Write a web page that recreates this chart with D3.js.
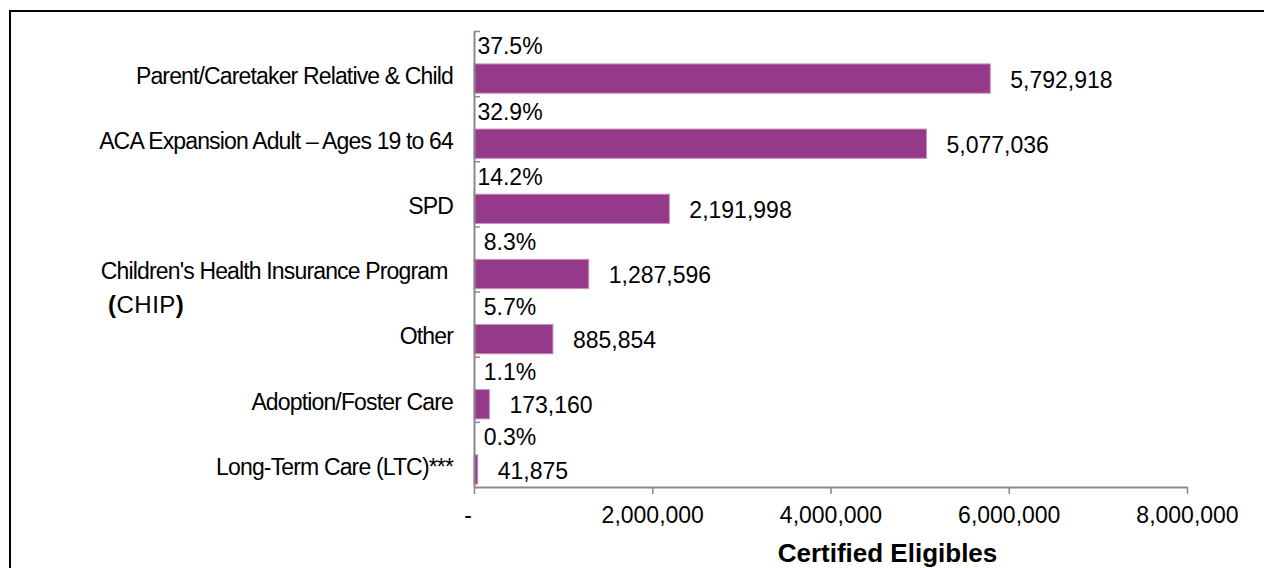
<!DOCTYPE html>
<html>
<head>
<meta charset="utf-8">
<script src="https://cdn.jsdelivr.net/npm/d3@7"></script>
<style>
body{margin:0;background:#fff;}
svg{font-family:"Liberation Sans",Arial,sans-serif;}
</style>
</head>
<body>
<svg id="chart" width="1264" height="568"></svg>
<script>
//--------------------- chart data
let categories=["Parent/Caretaker Relative & Child","ACA Expansion Adult \u2013 Ages 19 to 64","SPD","Children's Health Insurance Program \n(CHIP)","Other","Adoption/Foster Care","Long-Term Care (LTC)***"];
let eligibles=[5792918,5077036,2191998,1287596,885854,173160,41875];
let shares=["37.5%","32.9%","14.2%","8.3%","5.7%","1.1%","0.3%"];
let x_ticks=[0,2000000,4000000,6000000,8000000];
let x_title="Certified Eligibles";

let bar_color="#953a8b";
let axis_color="#8a8a8a";

//--------------------- layout
let svg=d3.select("#chart");
let margin={top:31,right:77,bottom:81,left:474};
let width=1264-margin.left-margin.right;
let height=568-margin.top-margin.bottom;

// frame round the chart (runs off the right and bottom edges)
svg.append("rect")
    .attr("x",10).attr("y",11)
    .attr("width",1300).attr("height",600)
    .attr("fill","none").attr("stroke","#000").attr("stroke-width",2);

let g=svg.append("g").attr("transform","translate("+margin.left+","+margin.top+")");

let x=d3.scaleLinear().domain([0,8000000]).range([0,width]);
let y=d3.scaleBand().domain(categories).range([0,height]).padding(0);
let bw=y.bandwidth();

// bars
g.selectAll(".bar")
    .data(eligibles)
    .enter().append("rect")
    .attr("class","bar")
    .attr("x",x(0))
    .attr("y",(d,i)=>y(categories[i])+bw*0.505)
    .attr("width",d=>x(d)-x(0))
    .attr("height",bw*0.45)
    .attr("fill",bar_color)
    .attr("stroke","#c893c1")
    .attr("stroke-width",1);

// value labels
g.selectAll(".value")
    .data(eligibles)
    .enter().append("text")
    .attr("class","value")
    .attr("x",d=>x(d)+20)
    .attr("y",(d,i)=>y(categories[i])+bw*0.73)
    .attr("dy","0.4em")
    .attr("font-size","23px")
    .attr("fill","#000")
    .text(d=>d3.format(",")(d));

// share labels
g.selectAll(".share")
    .data(shares)
    .enter().append("text")
    .attr("class","share")
    .attr("x",x(0)+36)
    .attr("y",(d,i)=>y(categories[i])+bw*0.36)
    .attr("text-anchor","middle")
    .attr("font-size","23px")
    .attr("fill","#000")
    .text(d=>d);

// category labels
categories.forEach(c=>{
    let lines=c.split("\n");
    let first=g.append("text")
        .attr("x",-21)
        .attr("y",y(c)+bw*0.73)
        .attr("dy","0.23em")
        .attr("text-anchor","end")
        .attr("font-size","23px")
        .attr("letter-spacing","-0.85px")
        .style("white-space","pre")
        .attr("fill","#000")
        .text(lines[0]);
    if(lines.length>1){
        let len=first.node().getComputedTextLength();
        let second=g.append("text")
            .attr("x",-21-len)
            .attr("y",y(c)+bw*0.73+33)
            .attr("dy","0.23em")
            .attr("font-size","24px")
            .attr("letter-spacing","0.5px")
            .style("white-space","pre")
            .attr("fill","#000");
        second.append("tspan").text(" ");
        lines[1].split(/([()])/).filter(s=>s!=="").forEach(s=>{
            second.append("tspan")
                .attr("font-weight",(s==="("||s===")")?"bold":"normal")
                .text(s);
        });
    }
});

// y axis: line with small ticks at the band edges
let y_edge=d3.scaleLinear().domain([0,categories.length]).range([0,height]);
let y_axis=g.append("g")
    .call(d3.axisRight(y_edge)
        .tickValues(d3.range(categories.length))
        .tickSizeInner(6).tickSizeOuter(0)
        .tickFormat(""));
y_axis.select(".domain").attr("stroke",axis_color).attr("stroke-width",2);
y_axis.selectAll(".tick line").attr("stroke",axis_color).attr("stroke-width",1.5);

// x axis
let x_axis=g.append("g")
    .attr("transform","translate(0,"+height+")")
    .call(d3.axisBottom(x)
        .tickValues(x_ticks)
        .tickSizeInner(7).tickSizeOuter(0)
        .tickPadding(13)
        .tickFormat(d=>d===0?"-  ":d3.format(",")(d)));
x_axis.select(".domain").attr("stroke",axis_color).attr("stroke-width",2);
x_axis.selectAll(".tick line").attr("stroke",axis_color).attr("stroke-width",1.5);
x_axis.selectAll(".tick text")
    .attr("font-size","23px")
    .attr("font-family","'Liberation Sans',Arial,sans-serif")
    .attr("fill","#000")
    .style("white-space","pre");

// axis title
g.append("text")
    .attr("x",width/2+57)
    .attr("y",height+75)
    .attr("text-anchor","middle")
    .attr("font-size","26px")
    .attr("font-weight","bold")
    .attr("fill","#000")
    .text(x_title);
</script>
</body>
</html>
